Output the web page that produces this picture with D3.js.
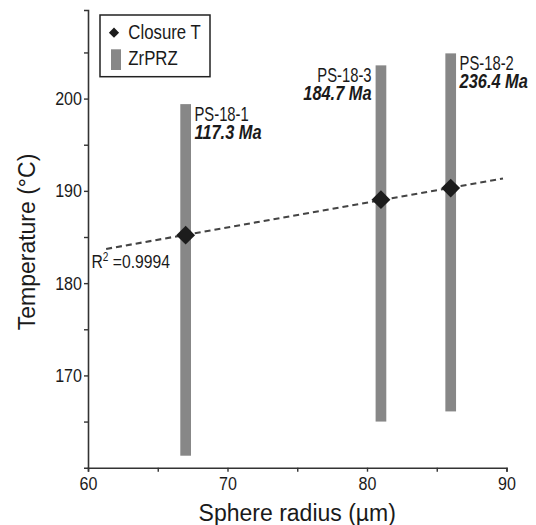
<!DOCTYPE html>
<meta charset="utf-8">
<style>
body { margin: 0; background: #fff; }
svg text { font-family: "Liberation Sans", Arial, sans-serif; }
</style>
<body>
<svg class="chart js-chart"></svg>

<script src="https://cdn.jsdelivr.net/npm/d3@7"></script>
<script type="text/javascript">
"use strict";

// data
var samples = ["PS-18-1", "PS-18-3", "PS-18-2"];
var ages = ["117.3 Ma", "184.7 Ma", "236.4 Ma"];
var radius = [67, 81, 86];
var closureT = [185.2, 189.05, 190.3];
var przLow = [161.3, 165.0, 166.1];
var przHigh = [199.4, 203.6, 204.9];
var fitX = [61.3, 89.75];
var fitY = [183.7, 191.34];
var xTicks = [60, 65, 70, 75, 80, 85, 90];
var yTicks = [165, 170, 175, 180, 185, 190, 195, 200, 205];
var xTickLabels = [60, 70, 80, 90];
var yTickLabels = [170, 180, 190, 200];

var width = 536, height = 525;
var barColor = "#878787", ink = "#1a1a1a";
var labelSide = ["right", "left", "right"];

var svg = d3.select('.js-chart')
  .attr('width', width)
  .attr('height', height);

var x = d3.scaleLinear().domain([60, 90]).range([88, 506.5]);
var y = d3.scaleLinear().domain([160, 209.6]).range([467.7, 10]);

// the figure uses a condensed face, so squeeze regular text horizontally
function narrowText (parent, tx, ty, str, size, sx, anchor) {
  var g = parent.append('g')
    .attr('transform', 'translate(' + tx + ',' + ty + ') scale(' + sx + ',1)');
  return g.append('text')
    .attr('text-anchor', anchor || 'start')
    .attr('fill', ink)
    .style('font-size', size + 'px')
    .text(str);
}

// axes
var xAxis = d3.axisBottom(x)
  .tickValues(xTicks)
  .tickSize(4)
  .tickPadding(5)
  .tickFormat(function (d) { return xTickLabels.indexOf(d) >= 0 ? d : ''; });
var yAxis = d3.axisLeft(y)
  .tickValues(yTicks)
  .tickSize(4)
  .tickPadding(2)
  .tickFormat(function (d) { return yTickLabels.indexOf(d) >= 0 ? d : ''; });

var gx = svg.append('g')
  .attr('transform', 'translate(0,' + y(160) + ')')
  .call(xAxis);
var gy = svg.append('g')
  .attr('transform', 'translate(' + x(60) + ',0)')
  .call(yAxis);

[gx, gy].forEach(function (g) {
  g.select('.domain').attr('stroke', '#333').attr('stroke-width', 1.6);
  g.selectAll('.tick line').attr('stroke', '#333').attr('stroke-width', 1.4);
  g.selectAll('.tick text')
    .attr('fill', ink)
    .style('font-family', '"Liberation Sans", Arial, sans-serif')
    .style('font-size', '18.7px')
    .attr('transform', 'scale(0.86,1)');
});
gy.selectAll('.tick text').attr('x', -7);

// axis titles
svg.append('text')
  .attr('x', (x(60) + x(90)) / 2)
  .attr('y', 521)
  .attr('text-anchor', 'middle')
  .attr('fill', ink)
  .style('font-size', '23px')
  .text('Sphere radius (\u00b5m)');

svg.append('text')
  .attr('transform', 'translate(35,242) rotate(-90)')
  .attr('text-anchor', 'middle')
  .attr('fill', ink)
  .style('font-size', '23px')
  .text('Temperature (\u00b0C)');

// ZrPRZ bars
var bw = 10.7;
svg.selectAll('.bar')
  .data(samples)
  .enter().append('rect')
  .attr('class', 'bar')
  .attr('x', function (d, i) { return x(radius[i]) - bw / 2; })
  .attr('y', function (d, i) { return y(przHigh[i]); })
  .attr('width', bw)
  .attr('height', function (d, i) { return y(przLow[i]) - y(przHigh[i]); })
  .attr('fill', barColor);

// fit line
svg.append('line')
  .attr('x1', x(fitX[0])).attr('y1', y(fitY[0]))
  .attr('x2', x(fitX[1])).attr('y2', y(fitY[1]))
  .attr('stroke', '#444')
  .attr('stroke-width', 2.2)
  .attr('stroke-dasharray', '6,4');

// closure T diamonds
var diamond = d3.symbol().type(d3.symbolSquare).size(178);
svg.selectAll('.pt')
  .data(samples)
  .enter().append('path')
  .attr('class', 'pt')
  .attr('d', diamond)
  .attr('transform', function (d, i) {
    return 'translate(' + x(radius[i]) + ',' + y(closureT[i]) + ') rotate(45)';
  })
  .attr('fill', '#1c1c1c');

// sample labels
samples.forEach(function (s, i) {
  var left = labelSide[i] === 'left';
  var tx = left ? x(radius[i]) - bw / 2 - 4 : x(radius[i]) + bw / 2 + 3.5;
  var ty = y(przHigh[i]) + 16.7;
  var anchor = left ? 'end' : 'start';
  narrowText(svg, tx, ty, s, 20, 0.74, anchor);
  narrowText(svg, tx, ty + 17.7, ages[i], 20, 0.82, anchor)
    .style('font-weight', 'bold')
    .style('font-style', 'italic');
});

// R squared
var r2 = narrowText(svg, 91.5, 268.3, '', 18.7, 0.84);
r2.append('tspan').text('R');
r2.append('tspan').attr('dy', -7).style('font-size', '12px').text('2');
r2.append('tspan').attr('dy', 7).text(' =0.9994');

// legend
var legend = svg.append('g');
legend.append('rect')
  .attr('x', 100).attr('y', 15)
  .attr('width', 110).attr('height', 61.7)
  .attr('fill', '#fff')
  .attr('stroke', '#222')
  .attr('stroke-width', 1.5);
legend.append('path')
  .attr('d', d3.symbol().type(d3.symbolSquare).size(52))
  .attr('transform', 'translate(114,32.7) rotate(45)')
  .attr('fill', '#1c1c1c');
legend.append('rect')
  .attr('x', 111).attr('y', 49.3)
  .attr('width', 10).attr('height', 20.7)
  .attr('fill', barColor);
narrowText(legend, 128.3, 39.3, 'Closure T', 20, 0.84);
narrowText(legend, 128.3, 65, 'ZrPRZ', 20, 0.84);
</script>
</body>
